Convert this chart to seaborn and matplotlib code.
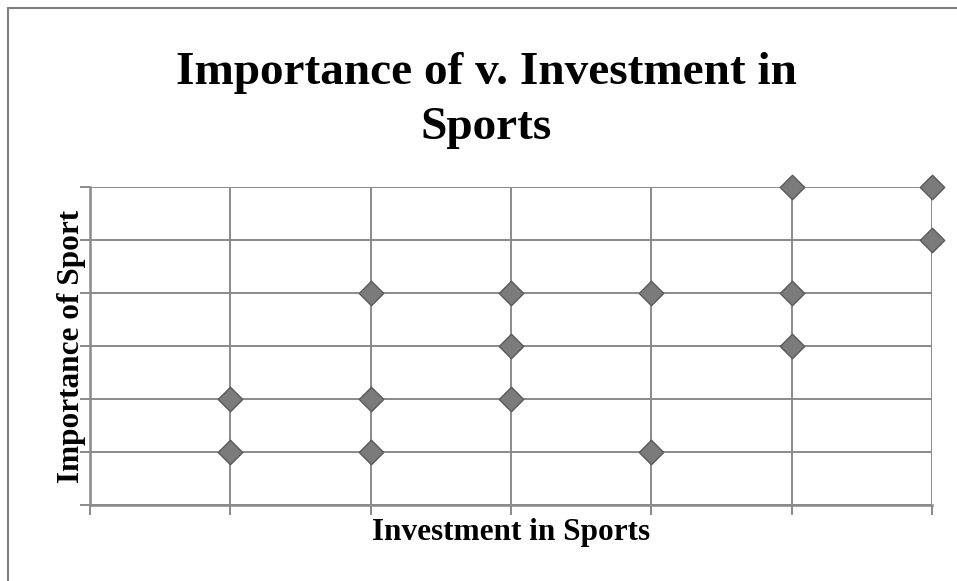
import matplotlib
matplotlib.use("Agg")
import matplotlib.pyplot as plt
import seaborn as sns
import pandas as pd
from matplotlib.lines import Line2D

# values
investment = [1, 1, 2, 2, 2, 3, 3, 3, 4, 4, 5, 5, 5, 6, 6]
importance = [1, 2, 1, 2, 4, 2, 3, 4, 1, 4, 3, 4, 6, 5, 6]
x_ticks = [0, 1, 2, 3, 4, 5, 6]
y_ticks = [0, 1, 2, 3, 4, 5, 6]

df = pd.DataFrame({'Investment': investment, 'Importance': importance})

sns.set_theme(style="white")
plt.rcParams['font.family'] = ['Liberation Serif', 'DejaVu Serif']

grid_col = '#8a8a8a'

fig = plt.figure(figsize=(9.57, 5.81), dpi=100)
ax = fig.add_axes([90 / 957, 76 / 581, 842 / 957, 318 / 581])

sns.scatterplot(data=df, x='Investment', y='Importance', marker='D', s=155,
                color='#7b7b7b', edgecolor='#5a5a5a', linewidth=1.0,
                clip_on=False, zorder=5, ax=ax)

ax.set_xlim(0, 6)
ax.set_ylim(0, 6)
ax.set_xticks(x_ticks)
ax.set_yticks(y_ticks)
ax.set_xticklabels([])
ax.set_yticklabels([])
ax.grid(True, color=grid_col, linewidth=1.4)
ax.set_axisbelow(True)
ax.tick_params(axis='both', which='both', length=7, width=1.4, color=grid_col,
               direction='out', bottom=True, left=True)
for side in ['top', 'right']:
    ax.spines[side].set_visible(False)
for side in ['left', 'bottom']:
    ax.spines[side].set_color(grid_col)
    ax.spines[side].set_linewidth(1.8)

ax.set_xlabel('Investment in Sports', fontsize=22.5, fontweight='bold', color='black')
ax.set_ylabel('Importance of Sport', fontsize=22.5, fontweight='bold', color='black')
ax.xaxis.set_label_coords(0.5, -0.04)
ax.xaxis.label.set_va('top')
ax.yaxis.set_label_coords(-0.005, 0.5)

fig.text(486 / 957, 1 - 52 / 581, 'Importance of v. Investment in\nSports',
         ha='center', va='top', fontsize=34, fontweight='bold', color='black',
         linespacing=1.4)

# outer chart frame (left and top edges visible)
fig.add_artist(Line2D([8 / 957, 8 / 957], [0, 1 - 8 / 581], color='#7f7f7f', linewidth=1.5))
fig.add_artist(Line2D([8 / 957, 1], [1 - 8 / 581, 1 - 8 / 581], color='#7f7f7f', linewidth=1.5))

fig.savefig('out.png', dpi=100)
